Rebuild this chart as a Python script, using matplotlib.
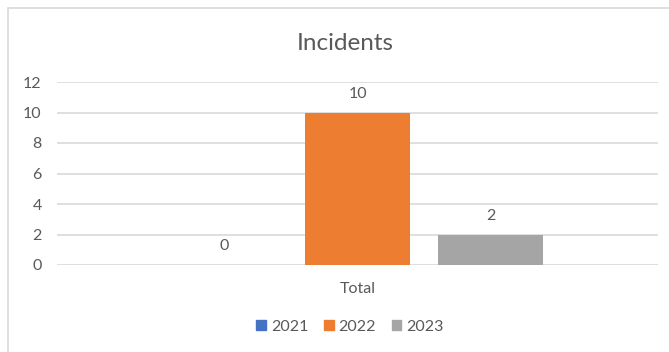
import matplotlib.pyplot as plt
from matplotlib.patches import Rectangle

years = ['2021', '2022', '2023']
values = [0, 10, 2]
colors = ['#4472C4', '#ED7D31', '#A5A5A5']
category = 'Total'

plt.rcParams['font.family'] = ['Lato', 'DejaVu Sans']
txt = '#595959'

fig = plt.figure(figsize=(6.69, 3.52), dpi=100)
fig.patch.set_facecolor('white')
# chart frame (only left/top edges visible in the crop)
fig.patches.append(Rectangle((8 / 669, -0.1), 1.2, (352 - 8) / 352 + 0.1,
                             transform=fig.transFigure, fill=False,
                             edgecolor='#D9D9D9', linewidth=1.2))

ax = fig.add_axes([57 / 669, (352 - 265) / 352, (658 - 57) / 669, (265 - 82) / 352])
width = 104.5 / 133
xs = [-1, 0, 1]
bars = ax.bar(xs, values, width=width, color=colors, label=years, zorder=3)
for x, v in zip(xs, values):
    ax.annotate(str(v), (x, v), xytext=(0, 13.5), textcoords='offset points',
                ha='center', va='center', fontsize=11.5, color=txt)

ax.set_xlim(-300.5 / 133, 300.5 / 133)
ax.set_ylim(0, 12)
ax.set_yticks(range(0, 13, 2))
ax.set_xticks([0])
ax.set_xticklabels([category])
ax.tick_params(axis='y', length=0, pad=11, labelsize=11.5, labelcolor=txt)
ax.tick_params(axis='x', length=0, pad=12, labelsize=11.5, labelcolor=txt)
ax.grid(axis='y', color='#D9D9D9', linewidth=1.2, zorder=0)
for s in ax.spines.values():
    s.set_visible(False)

fig.text(345 / 669, (352 - 43) / 352, 'Incidents', ha='center', va='center',
         fontsize=17.5, color=txt)

handles = [Rectangle((0, 0), 1, 1, color=c) for c in colors]
fig.legend(handles, years, loc='center', bbox_to_anchor=(350 / 669, (352 - 327) / 352),
           ncol=3, frameon=False, fontsize=11.5, labelcolor=txt,
           handlelength=0.6, handleheight=0.6, handletextpad=0.3, columnspacing=1.0)

fig.savefig('out.png', dpi=100)
